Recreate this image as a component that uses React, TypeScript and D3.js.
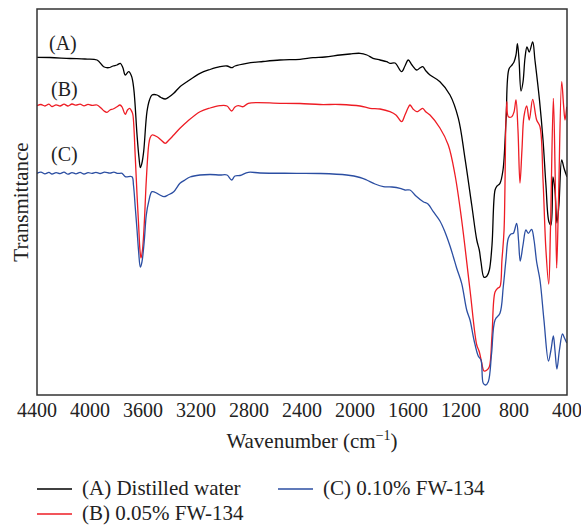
import React from "react";
import * as d3 from "d3";

// Wavenumber (cm^-1), transmittance (arbitrary offset units)
const spectrumA: [number, number][] = [
  [4400, 337.7], [4302, 337.5], [4151, 336.5], [4038, 336], [3947, 335], [3897, 328.3], [3859, 327.3],
  [3826, 329], [3796, 330], [3771, 331.7], [3751, 327], [3734, 320], [3708, 323.3], [3687, 319],
  [3670, 306.7], [3645, 260], [3630, 237], [3620, 227.3], [3608, 232], [3595, 243.3], [3570, 283.3],
  [3551, 295], [3532, 300], [3494, 300], [3464, 297.5], [3432, 296], [3404, 298], [3368, 301.7],
  [3321, 308.3], [3268, 313.3], [3170, 321.7], [3094, 325.5], [3019, 328.3], [2966, 329], [2931, 327.3],
  [2906, 329], [2817, 331.7], [2694, 333.5], [2566, 335], [2415, 335.7], [2317, 337.3], [2227, 338],
  [2113, 340], [2038, 341], [1962, 341.7], [1910, 340], [1864, 336.7], [1811, 335], [1761, 333.3],
  [1736, 331.7], [1698, 332], [1648, 323.3], [1623, 329], [1598, 335], [1570, 330], [1534, 325],
  [1510, 327], [1489, 328.3], [1464, 324], [1434, 320], [1359, 313.3], [1283, 300], [1220, 276.7],
  [1170, 236.7], [1119, 190], [1081, 155], [1062, 145], [1049, 133], [1026, 117.7], [1004, 119],
  [986, 125], [966, 150], [943, 205], [928, 209], [906, 211.7], [883, 225], [860, 275], [838, 326],
  [815, 330], [800, 333], [785, 340], [774, 351.4], [762, 335], [747, 304], [732, 313], [717, 337],
  [702, 348], [685, 343], [659, 353], [642, 335], [608, 295.4], [581, 255], [559, 210], [536, 173],
  [521, 170], [506, 218], [491, 205], [476, 172], [461, 190], [440, 235], [423, 227], [400, 218],
];

const spectrumB: [number, number][] = [
  [4400, 289.3], [4370, 290.5], [4340, 289], [4310, 290.8], [4287, 288.5], [4256, 290.2], [4226, 289],
  [4196, 290.8], [4166, 289], [4136, 291], [4106, 289.8], [4075, 290.8], [4045, 289.2], [4015, 290.6],
  [3985, 289.6], [3947, 290], [3917, 287], [3894, 284], [3872, 282.7], [3849, 285], [3826, 286],
  [3796, 288.3], [3774, 290], [3758, 288], [3734, 280.7], [3717, 285], [3700, 286.7], [3683, 283],
  [3676, 280], [3658, 237], [3645, 200], [3633, 170], [3623, 145], [3615, 137], [3604, 145],
  [3591, 170], [3575, 215], [3557, 250], [3547, 257], [3532, 260], [3494, 258.3], [3464, 255],
  [3432, 251.7], [3404, 255], [3368, 260], [3321, 266.7], [3268, 273.3], [3170, 283.3], [3094, 287],
  [3019, 289.3], [2966, 289], [2931, 284], [2906, 288], [2881, 289.3], [2843, 288.3], [2805, 291.7],
  [2566, 291.7], [2415, 291.5], [2264, 290.5], [2113, 290.5], [1962, 289], [1887, 286.7], [1811, 286],
  [1736, 283.3], [1691, 280], [1648, 273.3], [1623, 280], [1600, 287], [1585, 290], [1562, 286],
  [1534, 283.3], [1510, 285], [1489, 286.7], [1464, 283], [1434, 280], [1359, 267], [1296, 250],
  [1245, 220], [1195, 175], [1132, 105], [1081, 50], [1062, 43.3], [1045, 33], [1026, 24], [1004, 25],
  [986, 28.3], [966, 60], [943, 103], [921, 107], [906, 108.3], [891, 135], [875, 165], [855, 293.3],
  [843, 278.3], [817, 278.3], [800, 283], [785, 295], [770, 265], [755, 212], [740, 245], [725, 278.3],
  [704, 289], [685, 275], [659, 295.7], [629, 275], [604, 268.3], [581, 215], [559, 145], [538, 111],
  [525, 165], [503, 296.7], [490, 225], [478, 127], [464, 195], [440, 313.3], [426, 290], [415, 275],
  [402, 288.3],
];

const spectrumC: [number, number][] = [
  [4400, 221.7], [4370, 222.8], [4340, 221.2], [4310, 222.6], [4287, 221], [4256, 222.4], [4226, 221.4],
  [4196, 222.8], [4166, 220.8], [4136, 222.4], [4106, 221.2], [4075, 222.6], [4045, 221], [4015, 222.4],
  [3985, 221.6], [3955, 222.6], [3924, 221.5], [3890, 222.8], [3849, 221.8], [3820, 222.8], [3789, 221.6],
  [3758, 221.7], [3734, 218.3], [3683, 218.3],
  [3672, 210], [3658, 187], [3645, 165], [3633, 143.3], [3620, 128], [3608, 133], [3591, 153.3],
  [3575, 180], [3557, 193.3], [3532, 203.3], [3494, 201.7], [3472, 200], [3442, 198.3], [3411, 200],
  [3368, 203.3], [3321, 211.7], [3283, 215], [3245, 218], [3170, 220], [3094, 220.5], [3019, 220],
  [2966, 220], [2931, 215], [2906, 219], [2868, 219.5], [2805, 222.7], [2717, 222], [2440, 221.7],
  [2264, 221.5], [2063, 220], [1962, 217.5], [1912, 215], [1849, 211], [1786, 208.3], [1721, 208],
  [1660, 206.7], [1623, 205], [1585, 205], [1540, 199], [1485, 193.3], [1449, 191], [1409, 183.3],
  [1359, 174], [1321, 163], [1283, 149], [1258, 138.3], [1233, 127], [1195, 111.7], [1157, 85],
  [1132, 75], [1102, 55], [1070, 39], [1049, 35], [1032, 11.7], [1015, 10], [994, 13.3], [969, 41.7],
  [943, 75], [906, 81.7], [881, 108.3], [861, 135], [843, 156.7], [823, 161], [805, 161.7], [780, 171.7],
  [766, 155], [753, 134], [732, 150], [710, 165], [692, 161.7], [667, 165.7], [649, 155], [629, 133],
  [604, 115], [574, 75], [540, 34], [521, 45], [503, 59], [491, 45], [476, 26], [457, 45], [434, 61],
  [419, 57], [402, 52],
];

const xTicks = [4400, 4000, 3600, 3200, 2800, 2400, 2000, 1600, 1200, 800, 400];
const seriesNames = ["(A) Distilled water", "(B) 0.05% FW-134", "(C) 0.10% FW-134"];
const curveLabels = ["(A)", "(B)", "(C)"];
const colors = ["#000000", "#ee1c24", "#2b4ea2"];

const W = 581;
const H = 526;
const margin = { left: 37, top: 9, right: 567, bottom: 395 };
const FONT = "'Liberation Serif', 'Times New Roman', serif";

export default function App() {
  const x = d3.scaleLinear().domain([4400, 400]).range([margin.left, margin.right]);
  const y = d3.scaleLinear().domain([0, 386]).range([margin.bottom, margin.top]);
  const line = d3
    .line<[number, number]>()
    .x((d) => x(d[0]))
    .y((d) => y(d[1]))
    .curve(d3.curveCatmullRom.alpha(0.5));
  const data = [spectrumA, spectrumB, spectrumC];
  const labelPos = [
    { x: 49, y: 50 },
    { x: 51, y: 96 },
    { x: 51, y: 161 },
  ];
  const legend = [
    { x: 37, y: 489 },
    { x: 37, y: 514 },
    { x: 278, y: 489 },
  ];
  return (
    <svg
      width={W}
      height={H}
      style={{ position: "absolute", left: 0, top: 0, display: "block" }}
      fontFamily={FONT}
    >
      <rect width={W} height={H} fill="#fff" />
      <defs>
        <clipPath id="plotclip">
          <rect x={margin.left} y={margin.top} width={margin.right - margin.left} height={margin.bottom - margin.top} />
        </clipPath>
      </defs>
      <g clipPath="url(#plotclip)">
        {data.map((d, i) => (
          <path key={i} d={line(d) || ""} fill="none" stroke={colors[i]} strokeWidth={1.3} strokeLinejoin="round" />
        ))}
      </g>
      <rect
        x={margin.left}
        y={margin.top}
        width={margin.right - margin.left}
        height={margin.bottom - margin.top}
        fill="none"
        stroke="#333"
        strokeWidth={1.5}
      />
      {curveLabels.map((t, i) => (
        <text key={t} x={labelPos[i].x} y={labelPos[i].y} fontSize={20} fill="#222">
          {t}
        </text>
      ))}
      {xTicks.map((t) => (
        <text key={t} x={x(t)} y={417} fontSize={20} textAnchor="middle" fill="#222">
          {t}
        </text>
      ))}
      <text x={312} y={448} fontSize={21} textAnchor="middle" fill="#222">
        Wavenumber (cm
        <tspan fontSize={14} dy={-8}>−1</tspan>
        <tspan dy={8}>)</tspan>
      </text>
      <text
        transform={`translate(28, ${(margin.top + margin.bottom) / 2}) rotate(-90)`}
        fontSize={21}
        textAnchor="middle"
        fill="#222"
      >
        Transmittance
      </text>
      {seriesNames.map((s, i) => (
        <g key={s}>
          <line x1={legend[i].x} x2={legend[i].x + 35} y1={legend[i].y} y2={legend[i].y} stroke={colors[i]} strokeWidth={1.3} />
          <text x={legend[i].x + 45} y={legend[i].y + 6} fontSize={21} fill="#222">
            {s}
          </text>
        </g>
      ))}
    </svg>
  );
}
